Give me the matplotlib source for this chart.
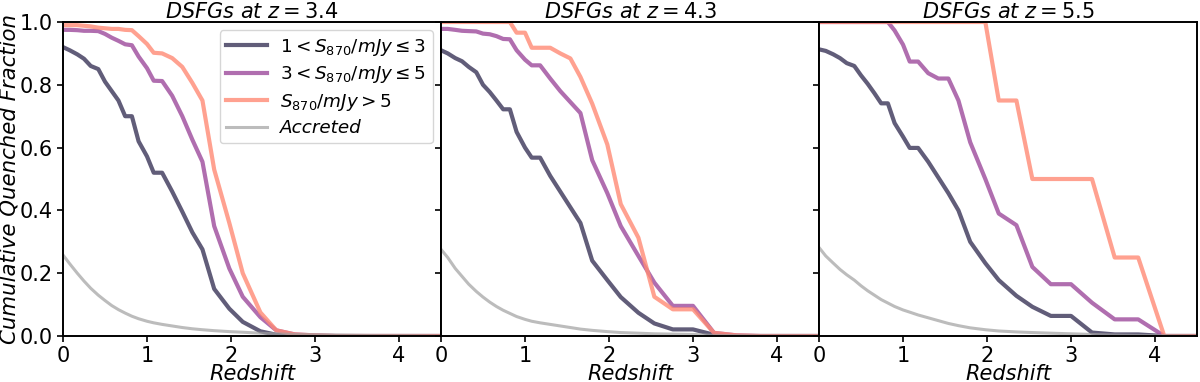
import matplotlib
matplotlib.use("Agg")
import matplotlib.pyplot as plt

z_grid = [0.0, 0.08, 0.17, 0.25, 0.33, 0.42, 0.5, 0.58, 0.66, 0.74, 0.82, 0.90,
          1.0, 1.08, 1.18, 1.30, 1.42, 1.54, 1.66, 1.80, 1.98, 2.14, 2.35, 2.54,
          2.76, 3.0, 3.25, 3.52, 3.80, 4.11, 4.5]

titles = ["DSFGs at $z = 3.4$", "DSFGs at $z = 4.3$", "DSFGs at $z = 5.5$"]
labels = [r"$1 < S_{870}/mJy \leq 3$", r"$3 < S_{870}/mJy \leq 5$",
          r"$S_{870}/mJy > 5$", "Accreted"]

# Panel 1: z = 3.4
p1_low = [0.92, 0.91, 0.897, 0.883, 0.86, 0.85, 0.81, 0.78, 0.75, 0.70, 0.70, 0.62,
          0.572, 0.52, 0.52, 0.46, 0.396, 0.33, 0.276, 0.15, 0.087, 0.045, 0.015, 0.004,
          0.0, 0.0, 0.0, 0.0, 0.0, 0.0, 0.0]
p1_mid = [0.975, 0.975, 0.974, 0.972, 0.972, 0.971, 0.962, 0.95, 0.94, 0.929, 0.926, 0.89,
          0.853, 0.813, 0.812, 0.765, 0.70, 0.625, 0.555, 0.35, 0.215, 0.125, 0.06, 0.018,
          0.005, 0.002, 0.0, 0.0, 0.0, 0.0, 0.0]
p1_high = [0.99, 0.99, 0.99, 0.988, 0.986, 0.982, 0.98, 0.978, 0.978, 0.975, 0.974, 0.955,
           0.93, 0.902, 0.90, 0.885, 0.857, 0.806, 0.75, 0.53, 0.36, 0.20, 0.075, 0.018,
           0.005, 0.002, 0.0, 0.0, 0.0, 0.0, 0.0]
p1_acc = [0.258, 0.23, 0.20, 0.175, 0.152, 0.13, 0.113, 0.097, 0.084, 0.073, 0.063, 0.055,
          0.047, 0.042, 0.037, 0.032, 0.027, 0.023, 0.02, 0.017, 0.014, 0.012, 0.009, 0.007,
          0.005, 0.004, 0.003, 0.002, 0.001, 0.001, 0.0]

# Panel 2: z = 4.3
p2_low = [0.91, 0.90, 0.885, 0.875, 0.857, 0.84, 0.80, 0.777, 0.75, 0.722, 0.722, 0.65,
          0.60, 0.568, 0.568, 0.51, 0.46, 0.41, 0.36, 0.24, 0.178, 0.124, 0.074, 0.04,
          0.021, 0.021, 0.004, 0.0, 0.0, 0.0, 0.0]
p2_mid = [0.978, 0.978, 0.975, 0.972, 0.971, 0.970, 0.963, 0.961, 0.955, 0.946, 0.945, 0.91,
          0.88, 0.862, 0.862, 0.82, 0.78, 0.745, 0.71, 0.56, 0.455, 0.35, 0.255, 0.17,
          0.096, 0.096, 0.01, 0.002, 0.0, 0.0, 0.0]
p2_high = [1.0, 1.0, 1.0, 1.0, 1.0, 1.0, 1.0, 1.0, 1.0, 1.0, 1.0, 0.966,
           0.966, 0.918, 0.918, 0.918, 0.90, 0.884, 0.825, 0.74, 0.61, 0.42, 0.313, 0.125,
           0.085, 0.085, 0.01, 0.002, 0.0, 0.0, 0.0]
p2_acc = [0.276, 0.25, 0.215, 0.19, 0.165, 0.142, 0.124, 0.108, 0.094, 0.082, 0.072, 0.062,
          0.053, 0.047, 0.042, 0.037, 0.032, 0.027, 0.022, 0.018, 0.014, 0.011, 0.009, 0.007,
          0.006, 0.005, 0.002, 0.001, 0.0, 0.0, 0.0]

# Panel 3: z = 5.5
p3_low = [0.913, 0.908, 0.897, 0.885, 0.869, 0.86, 0.83, 0.803, 0.773, 0.741, 0.741, 0.678,
          0.635, 0.599, 0.599, 0.555, 0.505, 0.455, 0.40, 0.30, 0.232, 0.178, 0.128, 0.093,
          0.064, 0.064, 0.011, 0.005, 0.005, 0.0, 0.0]
p3_mid = [1.0, 1.0, 1.0, 1.0, 1.0, 1.0, 1.0, 1.0, 1.0, 1.0, 1.0, 0.973,
          0.928, 0.874, 0.874, 0.837, 0.82, 0.82, 0.75, 0.617, 0.50, 0.39, 0.353, 0.22,
          0.165, 0.165, 0.106, 0.053, 0.053, 0.0, 0.0]
p3_high = [1.0, 1.0, 1.0, 1.0, 1.0, 1.0, 1.0, 1.0, 1.0, 1.0, 1.0, 1.0,
           1.0, 1.0, 1.0, 1.0, 1.0, 1.0, 1.0, 1.0, 1.0, 0.75, 0.75, 0.5,
           0.5, 0.5, 0.5, 0.25, 0.25, 0.0, 0.0]
p3_acc = [0.282, 0.255, 0.232, 0.212, 0.195, 0.178, 0.16, 0.144, 0.13, 0.116, 0.105, 0.094,
          0.083, 0.076, 0.067, 0.058, 0.049, 0.04, 0.033, 0.026, 0.02, 0.016, 0.013, 0.011,
          0.009, 0.007, 0.005, 0.003, 0.002, 0.001, 0.0]

panels = [
    (p1_low, p1_mid, p1_high, p1_acc),
    (p2_low, p2_mid, p2_high, p2_acc),
    (p3_low, p3_mid, p3_high, p3_acc),
]

colors = ["#3a3458", "#9c4a9b", "#ff8a75", "#a0a0a0"]
alphas = [0.8, 0.8, 0.8, 0.7]
widths = [3.0, 3.0, 3.0, 2.2]

x_ticks = [0, 1, 2, 3, 4]
y_ticks = [0.0, 0.2, 0.4, 0.6, 0.8, 1.0]

fig, axes = plt.subplots(1, 3, figsize=(12, 3.82), dpi=100, sharey=True)
fig.subplots_adjust(left=0.0525, right=0.9975, top=0.9424, bottom=0.1204, wspace=0)

for i, (ax, series) in enumerate(zip(axes, panels)):
    for s, c, a, w, lab in zip(series, colors, alphas, widths, labels):
        ax.plot(z_grid, s, color=c, alpha=a, lw=w, label=lab)
    ax.set_xlim(0, 4.5)
    ax.set_ylim(0, 1)
    ax.set_xticks(x_ticks)
    ax.set_yticks(y_ticks)
    ax.tick_params(labelsize=15, width=1.2, length=4)
    for sp in ax.spines.values():
        sp.set_linewidth(1.4)
    ax.set_title(titles[i], fontsize=15, style="italic", pad=3)
    ax.set_xlabel("Redshift", fontsize=15, style="italic", labelpad=-1.5)
    if i == 0:
        ax.set_ylabel("Cumulative Quenched Fraction", fontsize=15.3, style="italic", labelpad=0)
        leg = ax.legend(loc="upper right", fontsize=13.2, handlelength=2.25,
                        handletextpad=0.7, labelspacing=0.35,
                        borderaxespad=0.45, borderpad=0.35)
        for t in leg.get_texts():
            t.set_style("italic")
    else:
        ax.tick_params(labelleft=False)

fig.savefig("out.png", dpi=100)
